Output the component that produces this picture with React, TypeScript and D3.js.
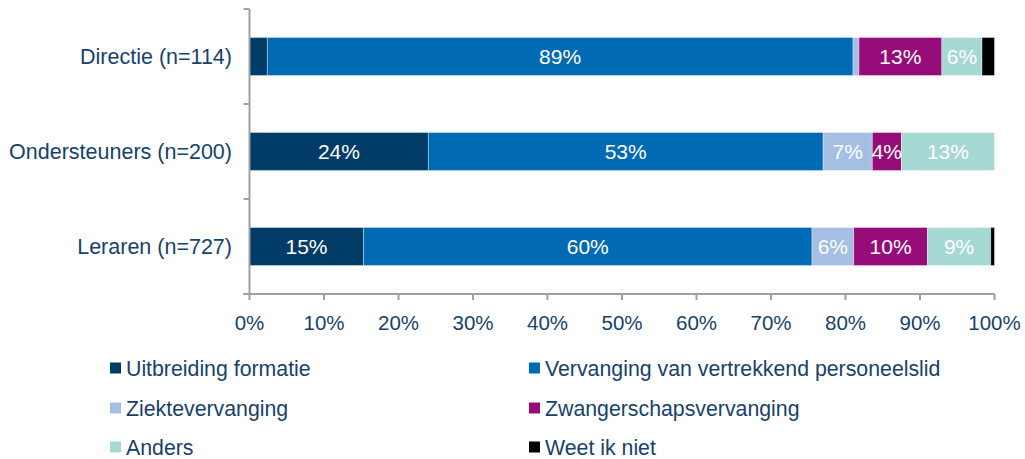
import React from "react";
import * as d3 from "d3";

const categories = ["Directie (n=114)", "Ondersteuners (n=200)", "Leraren (n=727)"];
const seriesNames = [
  "Uitbreiding formatie",
  "Vervanging van vertrekkend personeelslid",
  "Ziektevervanging",
  "Zwangerschapsvervanging",
  "Anders",
  "Weet ik niet",
];
const seriesColors = ["#003c66", "#006ab4", "#a4bfe3", "#960c79", "#a6d8d4", "#000000"];
// raw percentages per category (multiple answers possible, bars scaled to 100%)
const directie = [2.7, 89, 0.9, 12.6, 6.1, 1.9];
const ondersteuners = [24, 53, 6.6, 3.9, 12.5, 0];
const leraren = [15.3, 60.2, 5.6, 9.9, 8.5, 0.5];
const rows = [directie, ondersteuners, leraren];
const xTicks = [0, 0.1, 0.2, 0.3, 0.4, 0.5, 0.6, 0.7, 0.8, 0.9, 1];

const W = 1025;
const H = 459;
const textColor = "#17426b";
const axisColor = "#a0a0a0";
const font = "'Liberation Sans', Arial, sans-serif";

export default function App() {
  const x = d3.scaleLinear().domain([0, 1]).range([249.5, 994.5]);
  const y = d3.scaleBand().domain(categories).range([9, 294]).paddingInner(0.6).paddingOuter(0.3);
  const step = y.step();

  const legendCols = [110, 529];
  const legendRows = [368, 408, 447];

  return (
    <div style={{ position: "absolute", left: 0, top: 0 }}>
      <svg width={W} height={H} style={{ display: "block", fontFamily: font }}>
        <rect width={W} height={H} fill="#fff" />
        {/* bars */}
        {rows.map((vals, i) => {
          const total = d3.sum(vals);
          let acc = 0;
          const cat = categories[i];
          const y0 = y(cat)!;
          return (
            <g key={cat}>
              {vals.map((v, j) => {
                const start = acc / total;
                acc += v;
                const end = acc / total;
                if (v <= 0) return null;
                const x0 = x(start);
                const x1 = x(end);
                return (
                  <g key={j}>
                    <rect
                      x={x0}
                      y={y0}
                      width={x1 - x0}
                      height={y.bandwidth()}
                      fill={seriesColors[j]}
                      stroke="rgba(255,255,255,0.45)"
                      strokeWidth={0.8}
                    />
                    {v >= 3.5 && (
                      <text
                        x={(x0 + x1) / 2}
                        y={y0 + y.bandwidth() / 2}
                        dy="0.36em"
                        textAnchor="middle"
                        fill="#fff"
                        fontSize={21}
                      >
                        {Math.round(v)}%
                      </text>
                    )}
                  </g>
                );
              })}
            </g>
          );
        })}
        {/* axes */}
        <g stroke={axisColor} strokeWidth={2}>
          <line x1={x(0)} x2={x(0)} y1={9} y2={294} />
          {[0, 1, 2, 3].map((k) => (
            <line key={k} x1={x(0) - 6} x2={x(0)} y1={9 + k * step} y2={9 + k * step} />
          ))}
          <line x1={x(0) - 6} x2={x(1)} y1={294} y2={294} />
          {xTicks.map((t) => (
            <line key={t} x1={x(t)} x2={x(t)} y1={294} y2={300} />
          ))}
        </g>
        {/* category labels */}
        {categories.map((c) => (
          <text
            key={c}
            x={232}
            y={y(c)! + y.bandwidth() / 2}
            dy="0.36em"
            textAnchor="end"
            fill={textColor}
            fontSize={21.5}
          >
            {c}
          </text>
        ))}
        {/* x tick labels */}
        {xTicks.map((t) => (
          <text
            key={t}
            x={x(t)}
            y={323}
            dy="0.36em"
            textAnchor="middle"
            fill={textColor}
            fontSize={20.5}
          >
            {d3.format(".0%")(t)}
          </text>
        ))}
        {/* legend */}
        {seriesNames.map((name, i) => {
          const cx = legendCols[i % 2];
          const cy = legendRows[Math.floor(i / 2)];
          return (
            <g key={name}>
              <rect x={cx} y={cy - 5.5} width={11} height={11} fill={seriesColors[i]} />
              <text x={cx + 16} y={cy} dy="0.36em" fill={textColor} fontSize={21.3}>
                {name}
              </text>
            </g>
          );
        })}
      </svg>
    </div>
  );
}
